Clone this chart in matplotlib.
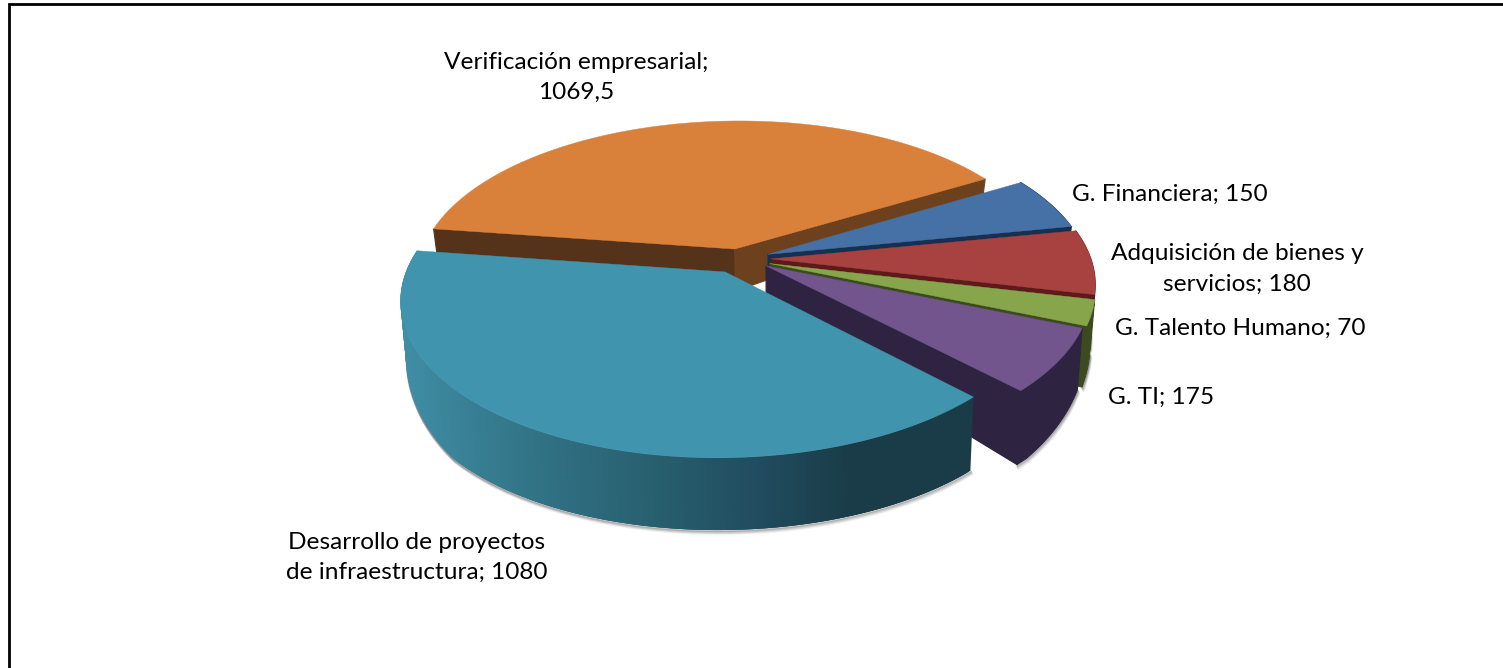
import numpy as np
import matplotlib
matplotlib.use("Agg")
import matplotlib.pyplot as plt
from matplotlib.patches import Polygon

plt.rcParams['font.family'] = ['Lato', 'DejaVu Sans']

# ---- data ----
categories = ["Verificación empresarial", "G. Financiera", "Adquisición de bienes y servicios",
              "G. Talento Humano", "G. TI", "Desarrollo de proyectos de infraestructura"]
values = [1069.5, 150, 180, 70, 175, 1080]
top_colors = ["#D9803B", "#4671A6", "#A84241", "#87A64C", "#71558C", "#4094AE"]
wall_colors = ["#6D411E", "#17304F", "#5C1A1B", "#3D4A1F", "#2E2340", "#1A3C48"]
explode_x = [-0.105, 0.0, 0.01, 0.005, -0.006, -0.132]
explode_y = [-0.085, -0.05, -0.02, 0.01, 0.025, 0.0636]
radius = [0.985, 1.0, 1.0, 1.0, 0.995, 0.985]
start_angle = -172.0

label_lines = [["Verificación empresarial;", "1069,5"], ["G. Financiera; 150"],
               ["Adquisición de bienes y", "servicios; 180"], ["G. Talento Humano; 70"],
               ["G. TI; 175"], ["Desarrollo de proyectos", "de infraestructura; 1080"]]
label_xy = [(576, 77.5), (1170, 194), (1237, 269), (1240, 328), (1161, 397), (417, 557.5)]

# ---- projection (a perspective view of the pie plane) ----
CX, CY, A, B, K = 768, 262, 320.7, 154.8, 0.163
D_Y = [-1.2, -0.8, -0.5, 0.0, 0.7, 1.1]
D_H = [12, 18, 28, 45, 74, 72]


def proj(X, Y, bottom=False):
    X, Y = np.asarray(X, float), np.asarray(Y, float)
    w = 1 - K * Y
    sx = A * X / w
    sy = CY + B * Y / w
    if bottom:
        sx = sx * 0.985
        sy = sy + np.interp(Y, D_Y, D_H)
    return np.column_stack([CX + sx, sy])


fig = plt.figure(figsize=(15.03, 6.68), dpi=100, facecolor="white")
ax = fig.add_axes([0, 0, 1, 1])
ax.set_xlim(0, 1503)
ax.set_ylim(668, 0)
ax.axis("off")

ax.plot([9, 9, 1503], [668, 4, 4], color="black", lw=2.0, solid_joinstyle="miter")

theta = np.radians(np.cumsum([0] + values) / sum(values) * 360 + start_angle)


def pt(i, t):
    return explode_x[i] + radius[i] * np.cos(t), explode_y[i] + radius[i] * np.sin(t)


def apex(i):
    return np.array([explode_x[i]]), np.array([explode_y[i]])


def fill(pts, color, z, lw=0.8):
    ax.add_patch(Polygon(pts, closed=True, facecolor=color, edgecolor=color, lw=lw, zorder=z))


def radial_wall(i, t, color, z):
    ax_, ay_ = apex(i)
    ex, ey = pt(i, np.array([t]))
    fill(np.vstack([proj(ax_, ay_), proj(ex, ey), proj(ex, ey, True), proj(ax_, ay_, True)]), color, z)


def rim_wall(i, color, z, n=160):
    x, y = pt(i, np.linspace(theta[i], theta[i + 1], n))
    fill(np.vstack([proj(x, y), proj(x, y, True)[::-1]]), color, z)


def shadow(i):
    x, y = pt(i, np.linspace(theta[i], theta[i + 1], 160))
    keep = y > -0.15
    low = proj(x[keep], y[keep], True)
    for d, al in [(4, 0.05), (3, 0.09), (2, 0.14), (1, 0.20)]:
        ax.plot(low[:, 0] + d * 0.4, low[:, 1] + d, color="black", alpha=al, lw=1.5, zorder=1)


def top(i, z):
    rx, ry = pt(i, np.linspace(theta[i], theta[i + 1], 160))
    ax_, ay_ = apex(i)
    fill(np.vstack([proj(ax_, ay_), proj(rx, ry)]), top_colors[i], z, lw=0.3)


for i in (2, 3, 4, 5):
    shadow(i)

# orange: back-most slice with its two cut faces
radial_wall(0, theta[0], "#55321A", 2)
radial_wall(0, theta[1], wall_colors[0], 2)
top(0, 3)

# small slices, back to front
z = 4
for i in (1, 2, 3, 4):
    rim_wall(i, wall_colors[i], z)
    radial_wall(i, theta[i + 1], wall_colors[i], z)
    top(i, z + 1)
    z += 2

# teal rim with a horizontal light gradient (overlapping strips, so no seams)
ts = np.linspace(theta[5], theta[6], 300)
xs, ys = pt(5, ts)
ptop, pbot = proj(xs, ys), proj(xs, ys, True)
stops_x = [400, 470, 560, 650, 760, 850, 1000]
stops_c = np.array([[0x40, 0x8E, 0xA6], [0x38, 0x7F, 0x94], [0x2F, 0x6E, 0x80],
                    [0x28, 0x60, 0x70], [0x20, 0x4C, 0x5E], [0x1A, 0x3C, 0x48], [0x1A, 0x3C, 0x48]]) / 255
for j in range(len(ts) - 1):
    k2 = min(j + 3, len(ts) - 1)
    mx = 0.5 * (ptop[j, 0] + ptop[j + 1, 0])
    c = [np.interp(mx, stops_x, stops_c[:, k]) for k in range(3)]
    ax.add_patch(Polygon(np.vstack([ptop[j], ptop[k2], pbot[k2], pbot[j]]), closed=True,
                         facecolor=c, edgecolor="none", zorder=12))
top(5, 13)

for lines, (lx, ly) in zip(label_lines, label_xy):
    ax.text(lx, ly, "\n".join(lines), ha="center", va="center", fontsize=17.6, color="black",
            linespacing=1.55, zorder=20)

fig.savefig("out.png", dpi=100)
